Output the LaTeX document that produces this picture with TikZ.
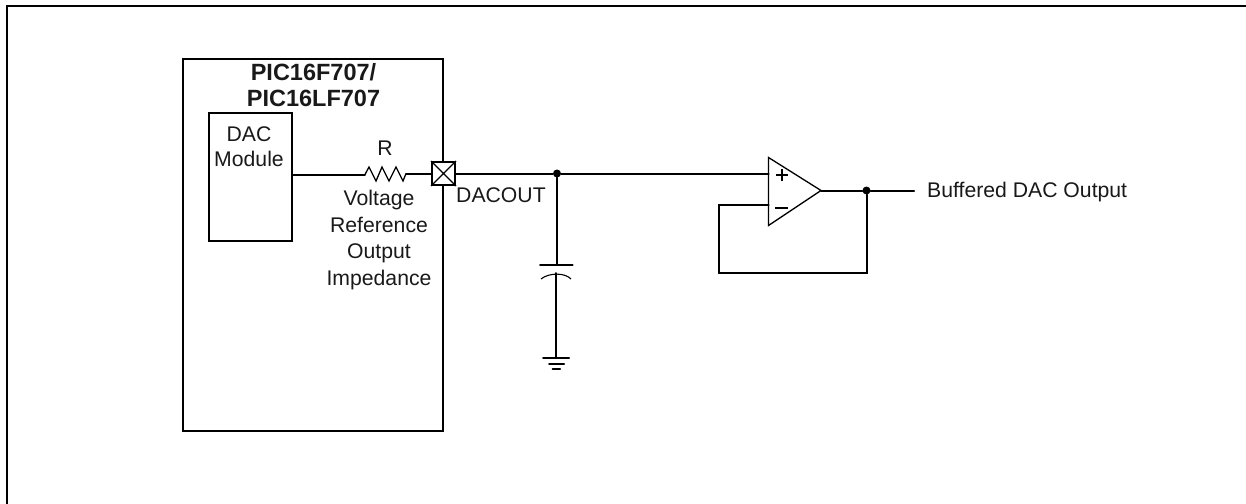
\documentclass[tikz,border=0pt]{standalone}
\usepackage{fontspec}
\setmainfont{Liberation Sans}
\tikzset{
 x=1pt,y=-1pt,
 wire/.style={line width=2pt,line cap=round,line join=miter},
 lbl/.style={inner sep=0pt,font=\fontsize{21.2}{26}\selectfont,align=center,text=black!90},
 dot/.style={circle,fill=black,inner sep=0pt,minimum size=8pt}
}
\begin{document}
\begin{tikzpicture}
\useasboundingbox (0,0) rectangle (1246,503);
\coordinate (frTL) at (6.8,5.8);
\draw[wire] (6.8,505) -- (frTL) -- (1248,5.8);
\node[draw,wire,minimum width=260pt,minimum height=372pt,inner sep=0pt,anchor=north west] (pic) at (182,58) {};
\node[draw,wire,minimum width=83.5pt,minimum height=128pt,inner sep=0pt,anchor=north west] (dac) at (207.5,111.5) {};
\node[lbl,font=\fontsize{23.5}{26}\bfseries\selectfont] (title) at (313.5,85) {PIC16F707/\\PIC16LF707};
\node[lbl,font=\fontsize{21.2}{25}\selectfont] (daclbl) at (249,147) {DAC\\Module};
\node[lbl] (rlbl) at (385,148) {R};
\node[lbl,font=\fontsize{21.2}{26.7}\selectfont] (vlbl) at (379,240) {Voltage\\Reference\\Output\\Impedance};
\node[lbl,anchor=west] (dacout) at (456,195) {DACOUT};
\node[lbl,anchor=west] (buf) at (927,192) {Buffered DAC Output};
% pin
\node[draw,wire,fill=white,minimum size=23pt,inner sep=0pt] (pin) at (443.5,173.5) {};
\draw[line width=1.1pt] (pin.north west) -- (pin.south east) (pin.north east) -- (pin.south west);
% resistor
\coordinate (ra) at (365,174.5);
\coordinate (rb) at (406,173.5);
\draw[wire] (dac.east |- ra) -- (ra);
\draw[line width=1.3pt] (ra) -- (369,167) -- (376,181) -- (382,167) -- (389,181) -- (396,167) -- (403,181) -- (rb);
\draw[wire] (rb) -- (pin.west);
% junction
\node[dot] (j1) at (557,173.5) {};
\draw[wire] (pin.east) -- (j1);
% opamp
\coordinate (oa) at (768.5,157.5);
\coordinate (ob) at (768.5,225.5);
\coordinate (oc) at (821,190.5);
\draw[line width=1.3pt,line join=miter] (oa) -- (oc) -- (ob) -- cycle;
\draw[line width=2pt] (776,175) -- (788,175) (782,169) -- (782,181);
\draw[line width=2pt] (775,208) -- (788,208);
\coordinate (ip) at (768.5,173.5);
\coordinate (im) at (768.5,205);
\draw[wire] (j1) -- (ip);
\node[dot] (j2) at (866.5,190.5) {};
\draw[wire] (oc) -- (j2) -- (914,190.5);
\draw[wire] (im) -- (719,205) -- (719,273) -- (866.5,273) -- (j2);
% capacitor
\coordinate (c1) at (557,265);
\draw[wire] (j1) -- (c1);
\draw[wire] (540,265) -- (572.5,265);
\draw[line width=1.1pt] (541,279) .. controls (549,272.5) and (565,272.5) .. (571,279);
\coordinate (gnd) at (556,358);
\draw[wire] (556,273) -- (gnd);
\draw[wire] (543,358) -- (569,358);
\draw[wire] (549,363.5) -- (564,363.5);
\draw[wire] (552.5,368.5) -- (560,368.5);
\end{tikzpicture}
\end{document}
